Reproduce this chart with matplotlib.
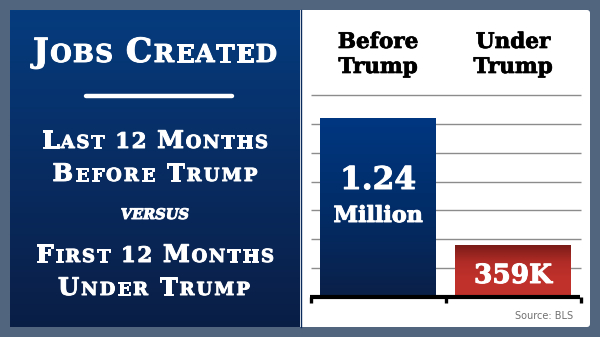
import numpy as np
import matplotlib.pyplot as plt
import matplotlib.patheffects as pe
from matplotlib.patches import Rectangle, FancyBboxPatch
from matplotlib.colors import LinearSegmentedColormap

# chart data
header_lines = [["Before", "Trump"], ["Under", "Trump"]]
jobs_millions = [1.24, 0.359]
value_lines = [["1.24", "Million"], ["359K"]]
grid_values = [0.2, 0.4, 0.6, 0.8, 1.0, 1.2, 1.4]

title = "Jobs Created"
left_lines = ["Last 12 Months", "Before Trump", "First 12 Months", "Under Trump"]
versus = "VERSUS"
source = "Source: BLS"

FRAME = "#52657f"
SERIF = "DejaVu Serif"
BOLDER = [pe.withStroke(linewidth=0.7, foreground="white")]


def gradient_cmap(colors):
    return LinearSegmentedColormap.from_list("g", colors)


def small_caps(ax, renderer, text, xc, yb, size, width, ratio=0.74, color="white"):
    # fake small caps: capitals big, lower case letters as smaller capitals,
    # letter spacing stretched so the line fills the wanted width
    parts = []
    space = size * 0.42
    for ch in text:
        if ch == " ":
            parts.append((None, space))
            continue
        if ch.isupper():
            s = size
        elif ch.isdigit():
            s = size * 0.88
        else:
            s = size * ratio
        t = ax.text(0, yb, ch.upper(), fontsize=s, fontfamily=SERIF,
                    fontweight="bold", color=color, ha="left", va="baseline",
                    path_effects=BOLDER)
        parts.append((t, t.get_window_extent(renderer).width))
    natural = sum(w for _, w in parts)
    track = (width - natural) / max(len(parts) - 1, 1)
    x = xc - width / 2
    for t, w in parts:
        if t is not None:
            t.set_x(x)
        x += w + track


fig = plt.figure(figsize=(6, 3.37), dpi=100)
fig.patch.set_facecolor(FRAME)
renderer = fig.canvas.get_renderer()

bg = fig.add_axes([0, 0, 1, 1])
bg.set_xlim(0, 600)
bg.set_ylim(337, 0)
bg.axis("off")

# left blue panel
grad = np.linspace(0, 1, 256).reshape(-1, 1)
bg.imshow(grad, extent=[10, 300, 327, 10], aspect="auto",
          cmap=gradient_cmap(["#053c7e", "#082c62", "#0a1e45"]), zorder=1)
# right white panel
bg.add_patch(FancyBboxPatch((300, 10), 290, 317, boxstyle="round,pad=0,rounding_size=3",
                            facecolor="white", edgecolor="none", zorder=1))
bg.add_patch(Rectangle((300, 10), 4, 317, facecolor="white", edgecolor="none", zorder=1))
bg.plot([300.5, 300.5], [10, 327], color="#0a2a5c", lw=1, zorder=2)
bg.set_xlim(0, 600)
bg.set_ylim(337, 0)

# left panel text
small_caps(bg, renderer, title, 155, 62, 24, 244, ratio=0.74)
bg.plot([86, 232], [96, 96], color="white", lw=3.2, solid_capstyle="round", zorder=3)
small_caps(bg, renderer, left_lines[0], 155, 148, 17.5, 226)
small_caps(bg, renderer, left_lines[1], 155, 181, 17.5, 205)
bg.text(155, 219, versus, fontsize=10.5, fontfamily=SERIF, fontweight="bold",
        fontstyle="italic", color="white", ha="center", va="baseline", path_effects=BOLDER)
small_caps(bg, renderer, left_lines[2], 155, 262, 17.5, 238)
small_caps(bg, renderer, left_lines[3], 154, 295, 17.5, 192)

bg.text(573, 319, source, fontsize=7, color="#707070", ha="right", va="baseline")

# bar chart axes over the white panel
ax = fig.add_axes([300 / 600, 40 / 337, 290 / 600, 287 / 337])
ax.patch.set_alpha(0)
ax.axis("off")
x = np.arange(len(jobs_millions))
xmin, xmax = -78 / 135, 1 + 77 / 135
ymax = 287 / 144.35

ax.hlines(grid_values, -0.496, 1.504, color="#8c8c8c", lw=1, zorder=1)
bars = ax.bar(x, jobs_millions, width=116 / 135, color=["#04367d", "#c0302a"], zorder=2)
cmaps = [gradient_cmap(["#003781", "#022d68", "#0a2048"]),
         gradient_cmap(["#7a1b17", "#b22c27", "#c1312b", "#c2322c"])]
for b, cm in zip(bars, cmaps):
    im = ax.imshow(grad, extent=[b.get_x(), b.get_x() + b.get_width(), 0, b.get_height()],
                   aspect="auto", cmap=cm, zorder=3)
    im.set_clip_path(b)

# bracket axis
ax.plot([-0.504, 1.496], [0, 0], color="black", lw=3, solid_capstyle="butt",
        clip_on=False, zorder=4)
tick_y = -6 / 144.35
for tx in [-0.5, 0.5, 1.5]:
    ax.plot([tx, tx], [0, tick_y], color="black", lw=2.4, solid_capstyle="butt",
            clip_on=False, zorder=4)

# column headers
for i, lines in enumerate(header_lines):
    for j, line in enumerate(lines):
        ax.text(i, (297 - 48 - 25 * j) / 144.35, line, fontsize=15.5, fontfamily=SERIF,
                fontweight="bold", color="black", ha="center", va="baseline",
                path_effects=[pe.withStroke(linewidth=0.5, foreground="black")])

# value labels inside bars
ax.text(0, (297 - 189) / 144.35, value_lines[0][0], fontsize=22.5, fontfamily=SERIF,
        fontweight="bold", color="white", ha="center", va="baseline", zorder=5,
        path_effects=BOLDER)
ax.text(0, (297 - 222) / 144.35, value_lines[0][1], fontsize=16, fontfamily=SERIF,
        fontweight="bold", color="white", ha="center", va="baseline", zorder=5,
        path_effects=BOLDER)
ax.text(1, (297 - 283) / 144.35, value_lines[1][0], fontsize=19, fontfamily=SERIF,
        fontweight="bold", color="white", ha="center", va="baseline", zorder=5,
        path_effects=BOLDER)

ax.set_xlim(xmin, xmax)
ax.set_ylim(0, ymax)

fig.savefig("out.png", dpi=100, facecolor=FRAME)
